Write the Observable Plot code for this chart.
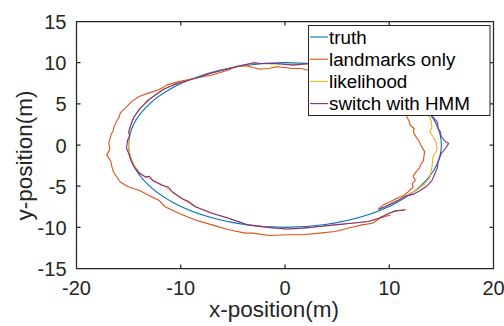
<!DOCTYPE html>
<html><head><meta charset="utf-8">
<script src="https://cdn.jsdelivr.net/npm/d3@7"></script>
<script src="https://cdn.jsdelivr.net/npm/@observablehq/plot@0.6"></script>
<style>
html,body{margin:0;padding:0;background:#fff;}
#chart{width:504px;height:326px;}
</style></head><body><div id="chart"></div>
<script>
const seriesNames = ["truth", "landmarks only", "likelihood", "switch with HMM"];
const seriesColors = ["#0072BD", "#D95319", "#EDB120", "#7E2F8E"];
const xTicks = [-20, -10, 0, 10, 20];
const yTicks = [-15, -10, -5, 0, 5, 10, 15];
const xLabel = "x-position(m)";
const yLabel = "y-position(m)";

const truth = [[15,0],[14.49,2.59],[12.99,5],[10.61,7.07],[7.5,8.66],[3.88,9.66],[0,10],[-3.88,9.66],[-7.5,8.66],[-10.61,7.07],[-12.99,5],[-14.49,2.59],[-15,0],[-14.49,-2.59],[-12.99,-5],[-10.61,-7.07],[-7.5,-8.66],[-3.88,-9.66],[0,-10],[3.88,-9.66],[7.5,-8.66],[10.61,-7.07],[12.99,-5],[14.49,-2.59]];

const landmarksOnly = [[9.0,-7.7],[9.4,-7.3],[10.1,-6.9],[10.7,-6.5],[11.4,-6.1],[11.8,-5.7],[12.3,-5.1],[12.2,-4.7],[12.5,-4.3],[12.3,-3.8],[12.6,-3.2],[12.9,-2.8],[13.0,-2.4],[13.3,-1.9],[13.3,-1.6],[13.4,-0.8],[13.1,-0.2],[12.8,0.6],[12.6,0.9],[12.3,1.6],[12.4,2.0],[12.0,2.4],[11.9,2.9],[11.7,3.4],[11.3,4.5],[10.8,5.6],[9.9,6.7],[8.7,7.5],[7.4,8.2],[5.9,8.6],[4.3,9.0],[3.2,9.1],[2.2,9.1],[1.5,9.3],[0.8,9.3],[-0.8,9.5],[-1.6,9.3],[-2.4,9.2],[-3.6,9.6],[-4.6,9.6],[-5.4,9.1],[-7.0,8.5],[-8.6,8.1],[-10.2,7.7],[-11.3,7.3],[-12.1,6.7],[-13.1,6.3],[-14.0,5.9],[-14.7,5.3],[-15.3,4.5],[-15.8,3.9],[-15.9,3.4],[-16.1,3.0],[-16.4,2.2],[-16.5,1.7],[-16.7,1.2],[-16.9,0.2],[-16.8,-0.5],[-17.1,-1.2],[-16.7,-2.0],[-16.6,-2.7],[-16.4,-3.4],[-15.8,-4.5],[-15.0,-5.1],[-14.0,-5.5],[-13.1,-6.1],[-12.1,-6.7],[-11.5,-7.5],[-10.2,-8.3],[-8.6,-9.1],[-7.0,-9.7],[-5.4,-10.3],[-3.8,-10.7],[-3.1,-10.7],[-1.5,-11.0],[0.1,-10.9],[1.7,-10.9],[3.3,-10.7],[4.8,-10.5],[6.4,-10.0],[7.4,-9.7],[8.4,-9.5],[9.1,-8.9],[10.1,-8.5]];

const likelihood = [[9.0,-7.8],[9.6,-7.5],[10.3,-7.0],[11.0,-6.6],[11.8,-6.0],[12.6,-5.5],[13.4,-4.7],[13.9,-3.9],[14.1,-2.6],[14.2,-1.4],[14.6,-0.6],[14.5,0.3],[14.2,1.0],[13.9,1.6],[14.1,2.2],[14.0,3.0],[13.8,3.6],[13.7,4.5],[13.2,5.7],[12.3,6.9],[10.9,7.9],[9.0,8.8],[7.1,9.4],[5.2,9.7],[3.3,9.8],[2.3,9.8],[0.8,9.8],[-0.8,9.8],[-2.4,9.9],[-3.0,9.9],[-4.0,9.7],[-5.6,9.2],[-7.2,8.7],[-8.1,8.3],[-9.4,7.8],[-10.7,7.3],[-11.6,6.8],[-12.4,6.1],[-13.4,5.1],[-14.0,4.3],[-14.5,3.4],[-14.8,2.4],[-14.9,1.6],[-15.0,0.6],[-15.0,-0.4],[-14.9,-1.0],[-14.7,-1.8],[-14.4,-2.6],[-13.9,-3.4],[-13.3,-3.9],[-12.6,-4.3],[-11.7,-4.9],[-10.8,-5.7],[-9.9,-6.5],[-8.6,-7.5],[-7.0,-8.3],[-5.4,-8.9],[-3.6,-9.7],[-1.6,-10.0],[0.1,-10.2],[1.7,-10.1],[3.3,-9.9],[4.8,-9.7],[6.4,-9.5],[8.0,-9.3],[9.0,-8.9],[10.0,-8.3],[10.6,-8.0],[11.6,-7.8]];

const switchHMM = [[9.0,-7.8],[9.6,-7.5],[10.1,-7.2],[10.9,-6.7],[11.6,-6.2],[12.3,-6.0],[13.0,-5.5],[13.6,-5.0],[14.1,-4.3],[14.4,-3.4],[14.6,-2.8],[14.7,-2.0],[15.0,-1.0],[15.4,-0.4],[15.7,0.2],[15.4,0.4],[15.0,1.0],[14.9,1.6],[14.7,2.0],[14.6,2.8],[14.2,3.4],[13.9,4.5],[13.4,5.7],[12.5,6.9],[11.0,7.9],[9.1,8.8],[7.2,9.4],[5.3,9.7],[3.4,9.9],[2.3,9.9],[0.8,9.7],[-0.8,9.9],[-2.4,9.9],[-3.0,10.0],[-4.0,9.7],[-5.6,9.2],[-7.2,8.7],[-8.1,8.3],[-9.4,7.8],[-10.7,7.3],[-11.6,6.8],[-12.4,6.1],[-13.0,5.6],[-13.4,5.1],[-14.0,4.3],[-14.2,3.9],[-14.5,3.4],[-14.8,2.4],[-15.0,1.6],[-14.9,1.1],[-15.1,0.6],[-15.2,-0.4],[-15.0,-1.0],[-14.8,-1.8],[-14.5,-2.6],[-14.0,-3.4],[-13.4,-3.9],[-13.0,-3.8],[-12.7,-4.3],[-11.8,-4.9],[-11.2,-5.1],[-10.8,-5.7],[-9.9,-6.5],[-9.2,-6.9],[-8.6,-7.5],[-7.0,-8.3],[-5.4,-8.9],[-3.6,-9.7],[-1.6,-10.0],[0.1,-10.2],[1.7,-10.1],[3.3,-9.9],[4.8,-9.7],[6.4,-9.5],[8.0,-9.3],[9.0,-8.9],[10.0,-8.3],[10.6,-8.0],[11.5,-7.9]];

const toRows = (pts) => pts.map(([x, y], i) => ({x, y, i}));
const seriesData = [truth, landmarksOnly, likelihood, switchHMM].map(toRows);

const font = "'Liberation Sans', Arial, Helvetica, sans-serif";
const ink = "#262626";

const plot = Plot.plot({
  width: 504,
  height: 326,
  marginLeft: 76,
  marginRight: 11,
  marginTop: 21,
  marginBottom: 58,
  style: {fontFamily: font, fontSize: "20px", color: ink, background: "#fff"},
  x: {domain: [-20, 20]},
  y: {domain: [-15, 15]},
  marks: [
    Plot.line(seriesData[0], {x: "x", y: "y", stroke: seriesColors[0], strokeWidth: 1.1, curve: "catmull-rom-closed"}),
    Plot.line(seriesData[1], {x: "x", y: "y", stroke: seriesColors[1], strokeWidth: 1.1}),
    Plot.line(seriesData[2], {x: "x", y: "y", stroke: seriesColors[2], strokeWidth: 1.1}),
    Plot.line(seriesData[3], {x: "x", y: "y", stroke: seriesColors[3], strokeWidth: 1.1}),
    Plot.axisX(xTicks, {tickSize: 0, tickPadding: 12, tickFormat: d => String(d), label: null, fill: ink}),
    Plot.axisY(yTicks, {tickSize: 0, tickPadding: 10, tickFormat: d => String(d), label: null, dy: 1.2, fill: ink})
  ]
});

const svg = d3.select(plot);
const sx = plot.scale("x"), sy = plot.scale("y");
const x0 = sx.apply(-20) + 0.5, x1 = sx.apply(20) + 0.5;
const yb = sy.apply(-15) + 0.5, yt = sy.apply(15) + 0.5;

// axes box and inward ticks (MATLAB style)
let d = `M${x0},${yt}H${x1}V${yb}H${x0}Z`;
xTicks.forEach(v => {
  const X = sx.apply(v) + 0.5;
  d += `M${X},${yb}V${yb - 4}M${X},${yt}V${yt + 4}`;
});
yTicks.forEach(v => {
  const Y = sy.apply(v) + 0.5;
  d += `M${x0},${Y}H${x0 + 4}M${x1},${Y}H${x1 - 4}`;
});
svg.append("path").attr("d", d).attr("stroke", ink).attr("stroke-width", 1.25).attr("fill", "none");

// axis titles
svg.append("text").text(xLabel)
  .attr("x", 274).attr("y", 316.5)
  .attr("text-anchor", "middle").attr("fill", ink)
  .style("font-family", font).style("font-size", "22.5px");
svg.append("text").text(yLabel)
  .attr("transform", "translate(32,155.5) rotate(-90)")
  .attr("text-anchor", "middle").attr("fill", ink)
  .style("font-family", font).style("font-size", "22.5px");

// legend
const lg = svg.append("g").attr("transform", "translate(308.5,25.5)");
lg.append("rect").attr("width", 181.5).attr("height", 90)
  .attr("fill", "#fff").attr("stroke", ink).attr("stroke-width", 1);
seriesNames.forEach((name, k) => {
  const ry = 11.5 + k * 22.2;
  lg.append("line").attr("x1", 1.5).attr("x2", 19.5).attr("y1", ry).attr("y2", ry)
    .attr("stroke", seriesColors[k]).attr("stroke-width", 1.1);
  lg.append("text").text(name).attr("x", 20.5).attr("y", ry + 6.7)
    .attr("text-anchor", "start")
    .attr("fill", "#000").style("font-family", font).style("font-size", "18.8px");
});

document.getElementById("chart").appendChild(plot);
</script>
</body></html>
